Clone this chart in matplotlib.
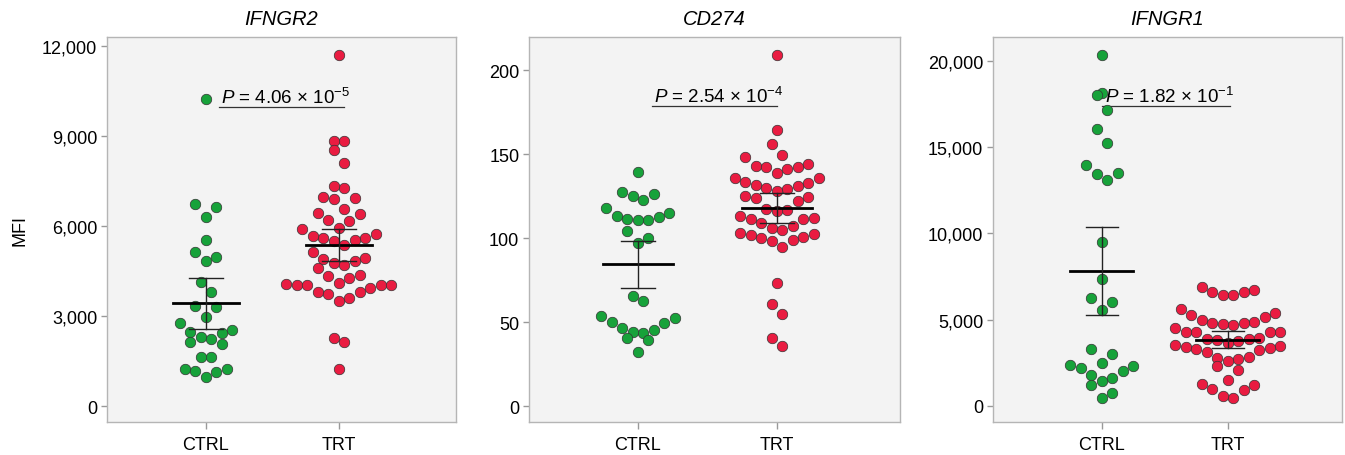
import numpy as np
import matplotlib
matplotlib.use("Agg")
import matplotlib.pyplot as plt
from matplotlib.ticker import FuncFormatter

plt.rcParams['font.family'] = ['Liberation Sans', 'DejaVu Sans']
plt.rcParams['mathtext.fontset'] = 'custom'
plt.rcParams['mathtext.rm'] = 'Liberation Sans'
plt.rcParams['mathtext.it'] = 'Liberation Sans:italic'

groups = ['CTRL', 'TRT']
genes = ['IFNGR2', 'CD274', 'IFNGR1']

# values (MFI)
ifngr2_ctrl = [10240, 6735, 6635, 6280, 5514, 4972, 5125, 4826, 4127, 3794, 3328, 3308,
               2962, 2775, 2463, 2519, 2442, 2296, 2220, 2130, 2053, 1643, 1643, 1221,
               1221, 1165, 1145, 965]
ifngr2_trt = [11681, 8819, 8819, 8519, 8100, 7268, 7344, 6912, 6902, 6955, 6569, 6436,
              6402, 6157, 6180, 5903, 5924, 5737, 5604, 5491, 5524, 5604, 5671, 5358,
              5138, 4905, 4915, 4771, 4826, 4605, 4682, 4359, 4272, 4326, 4050, 4027,
              4106, 4027, 4027, 4040, 3938, 3807, 3740, 3794, 3494, 3584, 2130, 2253, 1241]
cd274_ctrl = [139.4, 126.5, 127.7, 122.7, 124.8, 117.8, 114.8, 113.2, 112.6, 111.6, 110.8,
              110.6, 104.5, 99.9, 96.9, 65.5, 62.6, 53.6, 52.2, 49.7, 50.0, 45.3, 46.7,
              43.7, 44.3, 40.7, 39.1, 32.4]
cd274_trt = [209.1, 164.3, 155.9, 149.4, 148.4, 142.6, 143.0, 144.2, 142.4, 141.0, 139.0,
             132.7, 131.7, 135.5, 135.5, 130.7, 130.1, 133.1, 129.5, 128.1, 124.8, 123.7,
             124.2, 122.1, 117.6, 116.8, 116.2, 113.2, 112.2, 111.6, 111.2, 108.8, 107.2,
             105.7, 104.9, 102.9, 101.7, 102.3, 100.9, 100.3, 98.3, 98.7, 94.7, 73.5,
             60.6, 54.6, 40.7, 35.7]
ifngr1_ctrl = [20348, 18128, 18012, 17125, 16058, 15229, 13971, 13490, 13432, 13084, 9507,
               7328, 6261, 6029, 5548, 3327, 3037, 2516, 2359, 2319, 2226, 2029, 1797,
               1646, 1449, 1217, 736, 464]
ifngr1_trt = [6574, 6435, 6417, 6725, 6574, 6864, 5606, 5414, 5183, 5275, 4968, 4870, 4794,
              4835, 4678, 4736, 4545, 4313, 4290, 4313, 4313, 3867, 3925, 3768, 3907, 3826,
              3635, 3478, 3536, 3443, 3385, 3229, 3130, 3287, 2748, 2609, 2806, 2864, 2319,
              2087, 1490, 1217, 1258, 1009, 910, 487, 580]

p_texts = [r'$P$ = 4.06 × 10$^{-5}$', r'$P$ = 2.54 × 10$^{-4}$', r'$P$ = 1.82 × 10$^{-1}$']
p_heights = [9963, 178.4, 17356]
p_spans = [(0.10, 1.04), (0.10, 1.00), (0.0, 1.02)]
y_ticks = [np.arange(0, 12001, 3000), np.arange(0, 201, 50), np.arange(0, 20001, 5000)]

data = [(ifngr2_ctrl, ifngr2_trt), (cd274_ctrl, cd274_trt), (ifngr1_ctrl, ifngr1_trt)]

# layout in pixels of the reference (left, right), shared top / bottom
W, H = 1345, 456
boxes = [(107, 456), (529, 900), (993, 1342)]
top, bottom = 38, 423
xlims = [(-0.744, 1.88), (-0.784, 1.885), (-0.865, 1.905)]
ylims = [(-532, 12290), (-9.5, 219.7), (-928, 21374)]
colors = ['#17a23a', '#e91c41']
DOT = 10.5  # marker diameter in px


def t_crit(df):
    # two sided 95% t quantile (Cornish-Fisher expansion)
    z = 1.959964
    return z + (z**3 + z) / (4 * df) + (5 * z**5 + 16 * z**3 + 3 * z) / (96 * df**2)


def swarm(ax, vals, d, row_h=1.6):
    # prism-like scatter: group points into rows, lowest in the middle, rising outwards
    x0, x1 = ax.get_xlim()
    y0, y1 = ax.get_ylim()
    bb = ax.get_window_extent()
    sx = bb.width / (x1 - x0)
    sy = bb.height / (y1 - y0)
    ypx = np.asarray(vals) * sy
    order = np.argsort(ypx)
    offs = np.zeros(len(vals))
    rows, cur = [], [order[0]]
    for i in order[1:]:
        if ypx[i] - ypx[cur[0]] < d * row_h:
            cur.append(i)
        else:
            rows.append(cur)
            cur = [i]
    rows.append(cur)
    for row in rows:
        n = len(row)
        if n % 2:
            slots = [0] + [s * k for k in range(1, n) for s in (1, -1)]
        else:
            slots = [s * (k - 0.5) for k in range(1, n) for s in (1, -1)]
        for i, sl in zip(row, slots):
            offs[i] = sl * d / sx
    return offs


fig = plt.figure(figsize=(W / 100, H / 100), dpi=100)

for n in range(3):
    l, r = boxes[n]
    ax = fig.add_axes([l / W, (H - bottom) / H, (r - l) / W, (bottom - top) / H])
    ax.set_facecolor('#f3f3f3')
    ax.set_xlim(*xlims[n])
    ax.set_ylim(*ylims[n])
    for s in ax.spines.values():
        s.set_color('#b5b5b5')
        s.set_linewidth(1)

    for g in range(2):
        vals = np.array(data[n][g], dtype=float)
        offs = swarm(ax, vals, DOT)
        ax.scatter(g + offs, vals, s=(DOT * 0.72) ** 2, color=colors[g],
                   edgecolors='#333333', linewidths=0.5, zorder=3)
        m = vals.mean()
        ci = t_crit(len(vals) - 1) * vals.std(ddof=1) / np.sqrt(len(vals))
        ax.plot([g - 0.25, g + 0.25], [m, m], color='black', lw=2, zorder=4)
        ax.plot([g, g], [m - ci, m + ci], color='#222222', lw=1, zorder=4)
        for e in (m - ci, m + ci):
            ax.plot([g - 0.125, g + 0.125], [e, e], color='#222222', lw=1, zorder=4)

    x_a, x_b = p_spans[n]
    ax.plot([x_a, x_b], [p_heights[n], p_heights[n]], color='#333333', lw=0.9, zorder=2)
    ax.text((x_a + x_b) / 2 + 0.03, p_heights[n], p_texts[n], ha='center', va='bottom',
            fontsize=13.5, zorder=5)

    ax.set_xticks([0, 1])
    ax.set_xticklabels(groups)
    ax.set_yticks(y_ticks[n])
    ax.yaxis.set_major_formatter(FuncFormatter(lambda v, p: f'{int(v):,}'))
    ax.tick_params(axis='both', colors='#999999', labelcolor='black', labelsize=13,
                   length=4, width=1, pad=3)
    ax.tick_params(axis='x', length=5, pad=5)
    ax.set_title(genes[n], fontsize=14.5, style='italic', pad=9)
    if n == 0:
        ax.set_ylabel('MFI', fontsize=13, labelpad=10)

fig.savefig('out.png', dpi=100)
